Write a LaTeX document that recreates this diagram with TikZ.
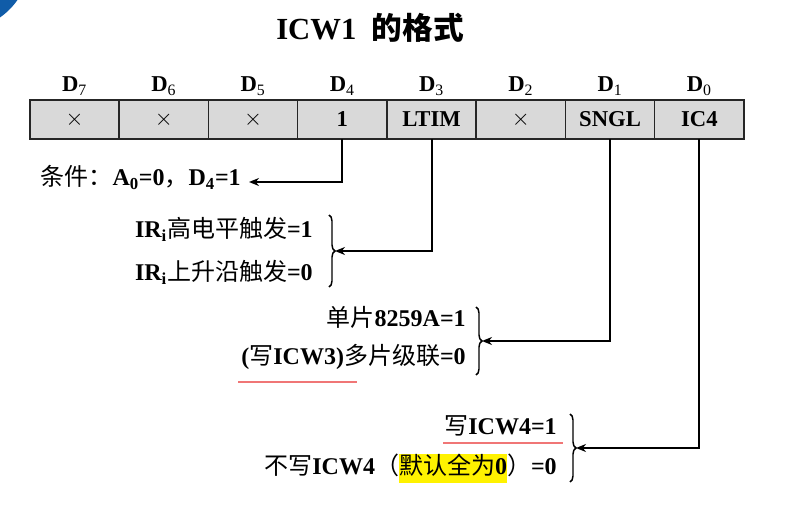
\documentclass[tikz,border=0pt]{standalone}
\usepackage{fontspec}
\setmainfont{Liberation Serif}
\newfontfamily\cjk{Noto Sans CJK SC}
\usetikzlibrary{arrows.meta,decorations.pathreplacing,positioning}

\newcommand\zh[1]{{\cjk\mdseries #1}}
\newcommand\lo[1]{\textsubscript{#1}}
\newcommand\hlyel[1]{{\fboxsep=0pt\colorbox{yellow}{\rule[-0.38em]{0pt}{1.1em}#1}}}

\definecolor{cellgray}{RGB}{217,217,217}
\definecolor{markred}{RGB}{240,118,118}
\definecolor{cornerblue}{RGB}{16,92,168}

\tikzset{
  cell/.style={draw=black!85, fill=cellgray, line width=1.1pt,
    minimum width=67pt, minimum height=29pt, inner sep=0pt, outer sep=0pt,
    font=\fontsize{17}{20}\selectfont\bfseries},
  bitlbl/.style={anchor=base, inner sep=0pt, font=\fontsize{17}{20}\selectfont\bfseries},
  txt/.style={anchor=base east, inner sep=0pt, font=\fontsize{18}{22}\selectfont\bfseries},
  conn/.style={line width=1.5pt, -{Stealth[length=7.5pt,width=6pt]}},
  brc/.style={line width=1.1pt, decorate, decoration={brace, amplitude=4.5pt}},
  uline/.style={draw=markred, line width=1.5pt}
}

\begin{document}
\begin{tikzpicture}[x=0.75pt, y=-0.75pt]
    \useasboundingbox (0,0) rectangle (789,520);

    %corner mark
    \begin{scope}
      \clip (0,0) rectangle (789,520);
      \fill[cornerblue] (-40,-40) circle[radius=70];
    \end{scope}

    %title
    \node[anchor=base, inner sep=0pt, font=\fontsize{23}{27}\selectfont\bfseries]
      (ttl) at (370,40) {ICW1\ \ {\cjk 的格式}};

    %register cells and bit labels
    \foreach \bit/\txt [count=\k from 0] in
      {7/{$\times$},6/{$\times$},5/{$\times$},4/1,3/LTIM,2/{$\times$},1/SNGL,0/IC4}
    {
      \node[cell] (c\bit) at ({74.6+89.25*\k},119.5) {\txt};
      \node[bitlbl] (d\bit) at ({74.6+89.25*\k},92) {D\lo{\mdseries\bit}};
    }

    %descriptions
    \node[txt] (cond) at (241,186) {\zh{条件：}A\lo{0}=0\zh{，}D\lo{4}=1};

    \node[txt] (lvl) at (313,238) {IR\lo{i}\zh{高电平触发}=1};
    \node[txt] (edg) at (313,281) {IR\lo{i}\zh{上升沿触发}=0};

    \node[txt] (sngl) at (466,327) {\zh{单片}8259A=1};
    \node[txt] (casc) at (466,364) {(\zh{写}ICW3)\zh{多片级联}=0};

    \node[txt] (icwa) at (557,434) {\zh{写}ICW4=1};
    \node[txt] (icwb) at (557,474) {\zh{不写}ICW4\zh{（}\hlyel{\zh{默认全为}0}\zh{）}=0};

    %red marks under text
    \draw[uline] (238,382) -- (357,382);
    \draw[uline] (443,443) -- (563,443);

    %braces and their tips
    \draw[brc] (329,215) -- (329,287);
    \draw[brc] (476,307) -- (476,375);
    \draw[brc] (570,414) -- (570,482);
    \coordinate (t4) at (249,182);
    \coordinate (t3) at (335,251);
    \coordinate (t1) at (482,341);
    \coordinate (t0) at (576,448);

    %connectors from the bits
    \draw[conn] (c4.south) |- (t4);
    \draw[conn] (c3.south) |- (t3);
    \draw[conn] (c1.south) |- (t1);
    \draw[conn] (c0.south) |- (t0);

\end{tikzpicture}
\end{document}
